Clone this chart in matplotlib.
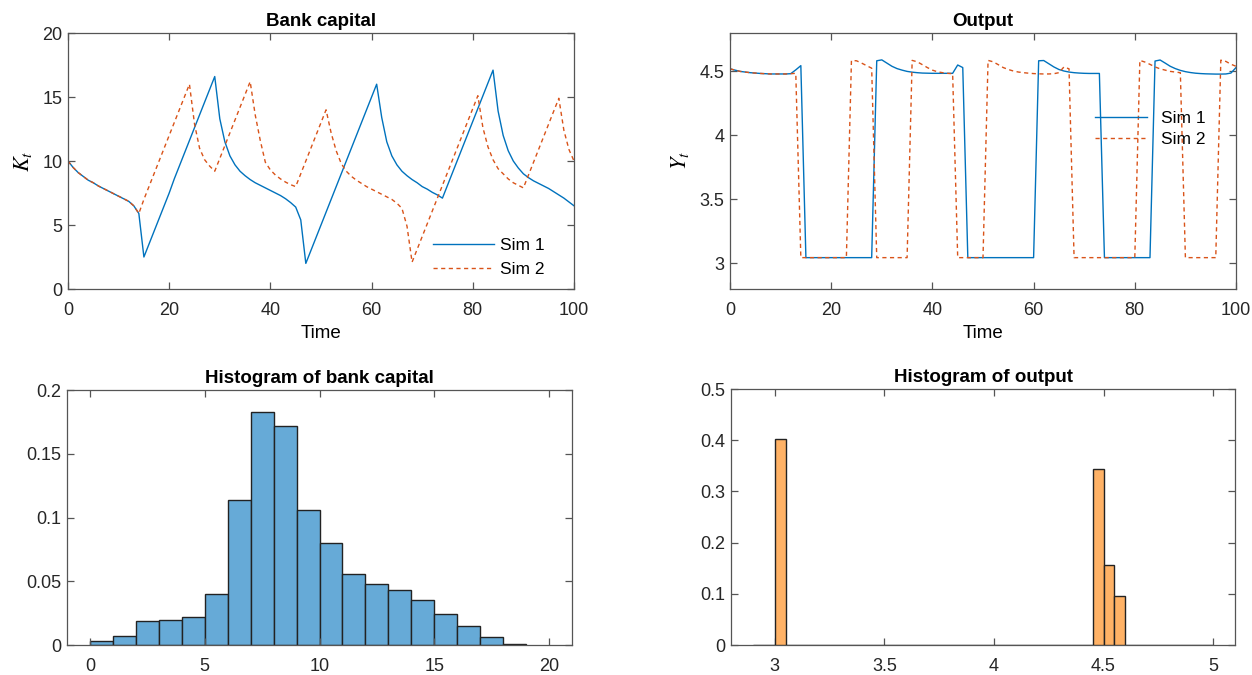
import numpy as np
import matplotlib
matplotlib.use("Agg")
import matplotlib.pyplot as plt

plt.rcParams['font.family'] = ['Liberation Sans', 'DejaVu Sans']
plt.rcParams['mathtext.fontset'] = 'stix'

# time axis
time = list(range(101))

# bank capital, two simulations
cap_sim1 = [10.0, 9.5, 9.1, 8.8, 8.5, 8.3, 8.05, 7.85, 7.65, 7.45,
            7.25, 7.05, 6.85, 6.5, 5.9, 2.5, 3.5, 4.5, 5.5, 6.5,
            7.5, 8.6, 9.6, 10.6, 11.6, 12.6, 13.6, 14.6, 15.6, 16.6,
            13.3, 11.5, 10.4, 9.7, 9.2, 8.85, 8.55, 8.3, 8.1, 7.9,
            7.7, 7.5, 7.3, 7.05, 6.75, 6.4, 5.4, 2.0, 3.0, 4.0,
            5.0, 6.0, 7.0, 8.0, 9.0, 10.0, 11.0, 12.0, 13.0, 14.0,
            15.0, 16.0, 13.4, 11.5, 10.4, 9.7, 9.2, 8.85, 8.55, 8.3,
            8.0, 7.8, 7.55, 7.35, 7.1, 8.1, 9.1, 10.1, 11.1, 12.1,
            13.1, 14.1, 15.1, 16.1, 17.1, 13.9, 12.0, 10.8, 10.0, 9.45,
            9.0, 8.7, 8.45, 8.25, 8.05, 7.85, 7.6, 7.35, 7.1, 6.8,
            6.5]
cap_sim2 = [10.0, 9.5, 9.1, 8.8, 8.5, 8.3, 8.05, 7.85, 7.65, 7.45,
            7.25, 7.05, 6.85, 6.5, 5.9, 7.0, 8.0, 9.0, 10.0, 11.0,
            12.0, 13.0, 14.0, 15.0, 16.0, 12.9, 11.0, 10.1, 9.6, 9.2,
            10.2, 11.2, 12.2, 13.2, 14.2, 15.2, 16.2, 13.6, 11.6, 9.9,
            9.3, 8.9, 8.6, 8.35, 8.15, 8.0, 9.0, 10.0, 11.0, 12.0,
            13.0, 14.0, 12.2, 10.8, 9.8, 9.2, 8.8, 8.5, 8.25, 8.0,
            7.8, 7.6, 7.4, 7.2, 7.0, 6.7, 6.3, 4.9, 2.1, 3.1,
            4.1, 5.1, 6.1, 7.1, 8.1, 9.1, 10.1, 11.1, 12.1, 13.1,
            14.1, 15.1, 12.6, 11.1, 10.1, 9.4, 9.0, 8.6, 8.3, 8.1,
            7.9, 8.9, 9.9, 10.9, 11.9, 12.9, 13.9, 14.9, 12.4, 10.9,
            10.0]

# output, two simulations
out_sim1 = [4.52, 4.51, 4.50, 4.495, 4.49, 4.487, 4.484, 4.482, 4.48, 4.48,
            4.48, 4.48, 4.482, 4.512, 4.545, 3.045, 3.045, 3.045, 3.045, 3.045,
            3.045, 3.045, 3.045, 3.045, 3.045, 3.045, 3.045, 3.045, 3.045, 4.583,
            4.59, 4.565, 4.54, 4.522, 4.51, 4.50, 4.494, 4.49, 4.487, 4.486,
            4.485, 4.485, 4.485, 4.485, 4.485, 4.55, 4.53, 3.045, 3.045, 3.045,
            3.045, 3.045, 3.045, 3.045, 3.045, 3.045, 3.045, 3.045, 3.045, 3.045,
            3.045, 4.583, 4.585, 4.56, 4.535, 4.515, 4.503, 4.495, 4.49, 4.487,
            4.485, 4.484, 4.484, 4.484, 3.045, 3.045, 3.045, 3.045, 3.045, 3.045,
            3.045, 3.045, 3.045, 3.045, 4.581, 4.589, 4.565, 4.54, 4.522, 4.508,
            4.498, 4.491, 4.486, 4.483, 4.481, 4.48, 4.479, 4.479, 4.48, 4.487,
            4.53]
out_sim2 = [4.52, 4.51, 4.50, 4.495, 4.49, 4.487, 4.484, 4.482, 4.48, 4.48,
            4.48, 4.48, 4.482, 4.485, 3.045, 3.045, 3.045, 3.045, 3.045, 3.045,
            3.045, 3.045, 3.045, 3.045, 4.585, 4.583, 4.565, 4.545, 4.525, 3.045,
            3.045, 3.045, 3.045, 3.045, 3.045, 3.045, 4.586, 4.575, 4.553, 4.53,
            4.51, 4.497, 4.49, 4.485, 4.482, 3.045, 3.045, 3.045, 3.045, 3.045,
            3.045, 4.586, 4.575, 4.553, 4.53, 4.515, 4.503, 4.495, 4.49, 4.486,
            4.483, 4.481, 4.48, 4.48, 4.482, 4.49, 4.535, 4.52, 3.045, 3.045,
            3.045, 3.045, 3.045, 3.045, 3.045, 3.045, 3.045, 3.045, 3.045, 3.045,
            3.045, 4.586, 4.573, 4.555, 4.535, 4.52, 4.51, 4.50, 4.495, 4.49,
            3.045, 3.045, 3.045, 3.045, 3.045, 3.045, 3.045, 4.588, 4.578, 4.556,
            4.54]

# histogram of bank capital (bin width 1, from 0)
cap_bin_left = list(range(19))
cap_freq = [0.003, 0.007, 0.019, 0.020, 0.022, 0.040, 0.114, 0.183, 0.172, 0.106,
            0.080, 0.056, 0.048, 0.043, 0.035, 0.024, 0.015, 0.006, 0.001]

# histogram of output (bin width 0.05, from 2.9)
out_bin_left = [round(2.9 + 0.05 * i, 2) for i in range(42)]
out_freq = [0, 0, 0.403] + [0] * 28 + [0.343, 0.157, 0.095] + [0] * 8

blue = '#0072BD'
orange = '#D95319'
axcol = '#555555'


def style(ax):
    for s in ax.spines.values():
        s.set_color(axcol)
        s.set_linewidth(0.9)
    ax.tick_params(direction='in', top=True, right=True, colors=axcol,
                   labelcolor='#262626', labelsize=13, length=5, width=0.9)
    ax.tick_params(axis='x', pad=9.5)
    ax.tick_params(axis='y', pad=4)


fig = plt.figure(figsize=(12.52, 6.75), dpi=100)
W, H = 1252, 675


def add_ax(x0, y0, x1, y1):
    return fig.add_axes([x0 / W, 1 - y1 / H, (x1 - x0) / W, (y1 - y0) / H])


# bank capital time series
ax1 = add_ax(68, 33, 574, 289)
ax1.plot(time, cap_sim1, color=blue, lw=1.0, label='Sim 1')
ax1.plot(time, cap_sim2, color=orange, lw=1.0, ls=(0, (3, 2.5)), label='Sim 2')
ax1.set_xlim(0, 100)
ax1.set_ylim(0, 20)
ax1.set_xticks([0, 20, 40, 60, 80, 100])
ax1.set_yticks([0, 5, 10, 15, 20])
ax1.set_title('Bank capital', fontweight='bold', fontsize=13.5, pad=5)
ax1.set_xlabel('Time', fontsize=13.5, labelpad=4)
ax1.set_ylabel('$K_t$', fontsize=16, labelpad=6)
ax1.legend(loc='lower left', bbox_to_anchor=(0.69, -0.015), frameon=False,
           fontsize=12.5, handlelength=3.5, labelspacing=0.5, handletextpad=0.4)
style(ax1)

# output time series
ax2 = add_ax(730, 33, 1236, 289)
ax2.plot(time, out_sim1, color=blue, lw=1.0, label='Sim 1')
ax2.plot(time, out_sim2, color=orange, lw=1.0, ls=(0, (3, 2.5)), label='Sim 2')
ax2.set_xlim(0, 100)
ax2.set_ylim(2.8, 4.8)
ax2.set_xticks([0, 20, 40, 60, 80, 100])
ax2.set_yticks([3, 3.5, 4, 4.5])
ax2.set_yticklabels(['3', '3.5', '4', '4.5'])
ax2.set_title('Output', fontweight='bold', fontsize=13.5, pad=5)
ax2.set_xlabel('Time', fontsize=13.5, labelpad=4)
ax2.set_ylabel('$Y_t$', fontsize=16, labelpad=6)
ax2.legend(loc='upper left', bbox_to_anchor=(0.69, 0.755), frameon=False,
           fontsize=12.5, handlelength=3.0, labelspacing=0.3, handletextpad=0.8)
style(ax2)

# histogram of bank capital
ax3 = add_ax(67, 390, 572, 645)
ax3.bar(cap_bin_left, cap_freq, width=1.0, align='edge', color='#66AAD7',
        edgecolor='#222222', linewidth=1.0)
ax3.set_xlim(-1, 21)
ax3.set_ylim(0, 0.2)
ax3.set_xticks([0, 5, 10, 15, 20])
ax3.set_yticks([0, 0.05, 0.1, 0.15, 0.2])
ax3.set_yticklabels(['0', '0.05', '0.1', '0.15', '0.2'])
ax3.set_title('Histogram of bank capital', fontweight='bold', fontsize=13.5, pad=5)
style(ax3)

# histogram of output
ax4 = add_ax(731, 389, 1235, 645)
ax4.bar(out_bin_left, out_freq, width=0.05, align='edge', color='#FFB266',
        edgecolor='#222222', linewidth=1.0, zorder=3)
ax4.set_xlim(2.8, 5.1)
ax4.set_ylim(0, 0.5)
ax4.set_xticks([3, 3.5, 4, 4.5, 5])
ax4.set_xticklabels(['3', '3.5', '4', '4.5', '5'])
ax4.set_yticks([0, 0.1, 0.2, 0.3, 0.4, 0.5])
ax4.set_yticklabels(['0', '0.1', '0.2', '0.3', '0.4', '0.5'])
ax4.set_title('Histogram of output', fontweight='bold', fontsize=13.5, pad=5)
style(ax4)

fig.savefig('out.png', dpi=100)
